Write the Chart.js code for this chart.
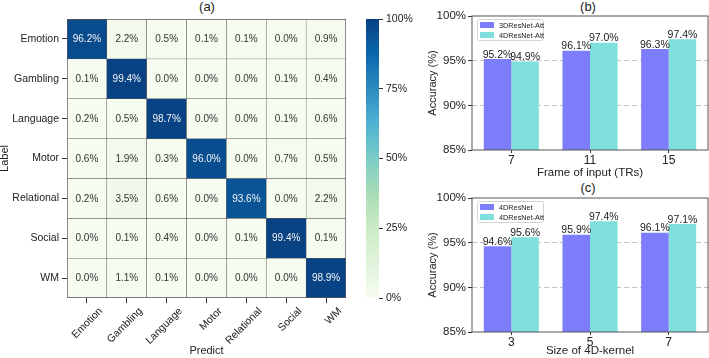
<!DOCTYPE html>
<html lang="en">
<head>
  <meta charset="UTF-8" />
  <title>Confusion matrix and accuracy</title>
  <script src="https://cdn.jsdelivr.net/npm/chart.js"></script>
  <style>
    body {
      margin: 0;
      width: 709px;
      height: 358px;
      position: relative;
      overflow: hidden;
      background: #fff;
      font-family: "Liberation Sans", Arial, sans-serif;
      color: #222;
    }
    canvas, .panel-title {
      position: absolute;
    }
    .panel-title {
      width: 40px;
      text-align: center;
      font-size: 13px;
      line-height: 16px;
    }
  </style>
</head>
<body>
  <div class="panel-title" style="left:187px; top:-1px;">(a)</div>
  <div class="panel-title" style="left:568px; top:-1px;">(b)</div>
  <div class="panel-title" style="left:568px; top:180px;">(c)</div>

  <canvas id="heatChart" width="362" height="358" style="left:0; top:0;"></canvas>
  <canvas id="barScale" width="70" height="358" style="left:355px; top:0;"></canvas>
  <canvas id="frameChart" width="299" height="180" style="left:410px; top:0;"></canvas>
  <canvas id="kernelChart" width="299" height="178" style="left:410px; top:180px;"></canvas>

  <script>
    // confusion matrix (rows = true label, columns = predicted)
    const taskLabels = ['Emotion', 'Gambling', 'Language', 'Motor', 'Relational', 'Social', 'WM'];
    const emotionRow    = [96.2, 2.2, 0.5, 0.1, 0.1, 0.0, 0.9];
    const gamblingRow   = [0.1, 99.4, 0.0, 0.0, 0.0, 0.1, 0.4];
    const languageRow   = [0.2, 0.5, 98.7, 0.0, 0.0, 0.1, 0.6];
    const motorRow      = [0.6, 1.9, 0.3, 96.0, 0.0, 0.7, 0.5];
    const relationalRow = [0.2, 3.5, 0.6, 0.0, 93.6, 0.0, 2.2];
    const socialRow     = [0.0, 0.1, 0.4, 0.0, 0.1, 99.4, 0.1];
    const wmRow         = [0.0, 1.1, 0.1, 0.0, 0.0, 0.0, 98.9];
    const colorbarTicks = [0, 25, 50, 75, 100];

    // (b) frame of input
    const frameLabels = ['7', '11', '15'];
    const frame3dAtt = [95.2, 96.1, 96.3];
    const frame4dAtt = [94.9, 97.0, 97.4];

    // (c) size of 4D kernel
    const kernelLabels = ['3', '5', '7'];
    const kernel4d = [94.6, 95.9, 96.1];
    const kernel4dAtt = [95.6, 97.4, 97.1];
    const accuracyTicks = [85, 90, 95, 100];

    const FONT = '"Liberation Sans", Arial, sans-serif';
    const TXT = '#222';
    const SPINE = '#555';
    const PURPLE = '#7d7dfb';
    const TURQ = '#7edfdc';

    const gnbu = ['#f7fcf0', '#e0f3db', '#ccebc5', '#a8ddb5', '#7bccc4', '#4eb3d3', '#2b8cbe', '#0868ac', '#084081'];

    function hexRgb(h) {
      return [1, 3, 5].map(i => parseInt(h.substr(i, 2), 16));
    }

    function gnbuColor(p) {
      const t = Math.max(0, Math.min(1, p / 100)) * 8;
      const i = Math.min(7, Math.floor(t));
      const f = t - i;
      const a = hexRgb(gnbu[i]), b = hexRgb(gnbu[i + 1]);
      const c = a.map((v, k) => Math.round(v + (b[k] - v) * f));
      return `rgb(${c[0]},${c[1]},${c[2]})`;
    }

    Chart.defaults.font.family = FONT;
    Chart.defaults.color = TXT;

    // ---------- (a) heatmap ----------
    const confusionRows = [emotionRow, gamblingRow, languageRow, motorRow, relationalRow, socialRow, wmRow];

    const cellText = {
      id: 'cellText',
      afterDatasetsDraw(chart) {
        const ctx = chart.ctx;
        ctx.save();
        ctx.font = '10px ' + FONT;
        ctx.textAlign = 'center';
        ctx.textBaseline = 'middle';
        chart.data.datasets.forEach((ds, r) => {
          chart.getDatasetMeta(r).data.forEach((el, c) => {
            const v = ds.pct[c];
            ctx.fillStyle = v > 50 ? '#f4f4f4' : '#333';
            ctx.fillText(v.toFixed(1) + '%', el.x, (el.y + el.base) / 2 + 0.5);
          });
        });
        ctx.restore();
      }
    };

    new Chart(document.getElementById('heatChart'), {
      type: 'bar',
      data: {
        labels: taskLabels,
        datasets: confusionRows.map((row, r) => ({
          label: taskLabels[r],
          data: row.map(() => 1),
          pct: row,
          backgroundColor: row.map(gnbuColor),
          borderColor: SPINE,
          borderSkipped: false,
          borderWidth: ctx => ({
            top: ctx.datasetIndex === 0 ? 1 : 0.5,
            bottom: ctx.datasetIndex === 6 ? 1 : 0.5,
            left: ctx.dataIndex === 0 ? 1 : 0.5,
            right: ctx.dataIndex === 6 ? 1 : 0.5
          }),
          barPercentage: 1,
          categoryPercentage: 1
        }))
      },
      options: {
        responsive: false,
        animation: false,
        layout: { padding: { top: 19, right: 16, left: 0, bottom: 0 } },
        plugins: { legend: { display: false }, tooltip: { enabled: false } },
        scales: {
          x: {
            stacked: true,
            grid: { offset: false, drawOnChartArea: false, tickLength: 5, color: '#333' },
            border: { display: false },
            ticks: { autoSkip: false, minRotation: 45, maxRotation: 45, labelOffset: 14, padding: 2, font: { size: 10.5 } },
            title: { display: true, text: 'Predict', padding: 0, font: { size: 11 } },
            afterFit: s => { s.height = 60; }
          },
          y: {
            stacked: true,
            reverse: true,
            min: 0,
            max: 7,
            afterBuildTicks: s => { s.ticks = taskLabels.map((_, i) => ({ value: i + 0.5 })); },
            grid: { drawOnChartArea: false, tickLength: 5, color: '#333' },
            border: { display: false },
            ticks: { callback: v => taskLabels[Math.floor(v)], padding: 3, font: { size: 10.5 } },
            title: { display: true, text: 'Label', padding: { top: -2, bottom: 0 }, font: { size: 11 } },
            afterFit: s => { s.width = 67; }
          }
        }
      },
      plugins: [cellText]
    });

    // ---------- colorbar ----------
    new Chart(document.getElementById('barScale'), {
      type: 'bar',
      data: {
        labels: [''],
        datasets: [{
          data: [[colorbarTicks[0], colorbarTicks[colorbarTicks.length - 1]]],
          backgroundColor: ctx => {
            const a = ctx.chart.chartArea;
            if (!a) return gnbu[0];
            const g = ctx.chart.ctx.createLinearGradient(0, a.bottom, 0, a.top);
            gnbu.forEach((c, i) => g.addColorStop(i / 8, c));
            return g;
          },
          barPercentage: 1,
          categoryPercentage: 1
        }]
      },
      options: {
        responsive: false,
        animation: false,
        layout: { padding: { top: 19, right: 0, left: 11, bottom: 60 } },
        plugins: { legend: { display: false }, tooltip: { enabled: false } },
        scales: {
          x: { display: false },
          y: {
            position: 'right',
            min: 0,
            max: 100,
            afterBuildTicks: s => { s.ticks = colorbarTicks.map(v => ({ value: v })); },
            grid: { drawOnChartArea: false, tickLength: 4, color: '#333' },
            border: { display: false },
            ticks: { callback: v => v + '%', padding: 3, font: { size: 10.5 } },
            afterFit: s => { s.width = 46; }
          }
        }
      }
    });

    // ---------- (b), (c) grouped bars ----------
    const frameBox = {
      id: 'frameBox',
      afterDatasetsDraw(chart) {
        const { ctx, chartArea: a } = chart;
        ctx.save();
        ctx.strokeStyle = SPINE;
        ctx.lineWidth = 1;
        ctx.strokeRect(a.left, a.top, a.right - a.left, a.bottom - a.top);
        ctx.restore();
      }
    };

    const valueTags = {
      id: 'valueTags',
      afterDatasetsDraw(chart) {
        const ctx = chart.ctx;
        ctx.save();
        ctx.font = '10.5px ' + FONT;
        ctx.fillStyle = TXT;
        ctx.textAlign = 'center';
        ctx.textBaseline = 'bottom';
        chart.data.datasets.forEach((ds, i) => {
          chart.getDatasetMeta(i).data.forEach((el, j) => {
            ctx.fillText(ds.data[j].toFixed(1) + '%', el.x, el.y + 1);
          });
        });
        ctx.restore();
      }
    };

    const boxLegend = {
      id: 'boxLegend',
      afterDatasetsDraw(chart) {
        const { ctx, chartArea: a } = chart;
        const x = a.left + 5, y = a.top + 3;
        ctx.save();
        ctx.fillStyle = 'rgba(255,255,255,0.85)';
        ctx.strokeStyle = '#d4d4d4';
        ctx.lineWidth = 1;
        ctx.beginPath();
        ctx.roundRect(x + 0.5, y + 0.5, 66, 21, 2);
        ctx.fill();
        ctx.stroke();
        ctx.font = '7.3px ' + FONT;
        ctx.textBaseline = 'middle';
        chart.data.datasets.forEach((ds, i) => {
          const cy = y + 6 + i * 10;
          ctx.fillStyle = ds.backgroundColor;
          ctx.fillRect(x + 3, cy - 3, 14, 6);
          ctx.fillStyle = TXT;
          ctx.fillText(ds.label, x + 22, cy + 0.5);
        });
        ctx.restore();
      }
    };

    function groupedBars(id, labels, names, seriesA, seriesB, xTitle, padTop, xHeight) {
      return new Chart(document.getElementById(id), {
        type: 'bar',
        data: {
          labels: labels,
          datasets: [
            { label: names[0], data: seriesA, backgroundColor: PURPLE },
            { label: names[1], data: seriesB, backgroundColor: TURQ }
          ]
        },
        options: {
          responsive: false,
          animation: false,
          datasets: { bar: { barPercentage: 1, categoryPercentage: 0.7 } },
          layout: { padding: { top: padTop, right: 1, left: 0, bottom: 0 } },
          plugins: { legend: { display: false }, tooltip: { enabled: false } },
          scales: {
            x: {
              grid: { offset: false, drawOnChartArea: false, tickLength: 3, color: '#333' },
              border: { display: false },
              ticks: { padding: 0, font: { size: 12 } },
              title: { display: true, text: xTitle, padding: { top: 0, bottom: 0 }, font: { size: 11.5 } },
              afterFit: s => { s.height = xHeight; }
            },
            y: {
              min: accuracyTicks[0],
              max: accuracyTicks[accuracyTicks.length - 1],
              afterBuildTicks: s => { s.ticks = accuracyTicks.map(v => ({ value: v })); },
              grid: {
                color: c => (c.tick && c.tick.value > 85 && c.tick.value < 100) ? '#c4c4c4' : 'rgba(0,0,0,0)',
                tickColor: '#333',
                tickLength: 4,
                lineWidth: 1
              },
              border: { display: false, dash: [5, 3] },
              ticks: { callback: v => v + '%', padding: 2, font: { size: 11.5 } },
              title: { display: true, text: 'Accuracy (%)', padding: { top: 16, bottom: 0 }, font: { size: 11 } },
              afterFit: s => { s.width = 62; }
            }
          }
        },
        plugins: [frameBox, valueTags, boxLegend]
      });
    }

    groupedBars('frameChart', frameLabels, ['3DResNet-Att', '4DResNet-Att'], frame3dAtt, frame4dAtt,
      'Frame of input (TRs)', 16, 30);
    groupedBars('kernelChart', kernelLabels, ['4DResNet', '4DResNet-Att'], kernel4d, kernel4dAtt,
      'Size of 4D-kernel', 18, 26);
  </script>
</body>
</html>
